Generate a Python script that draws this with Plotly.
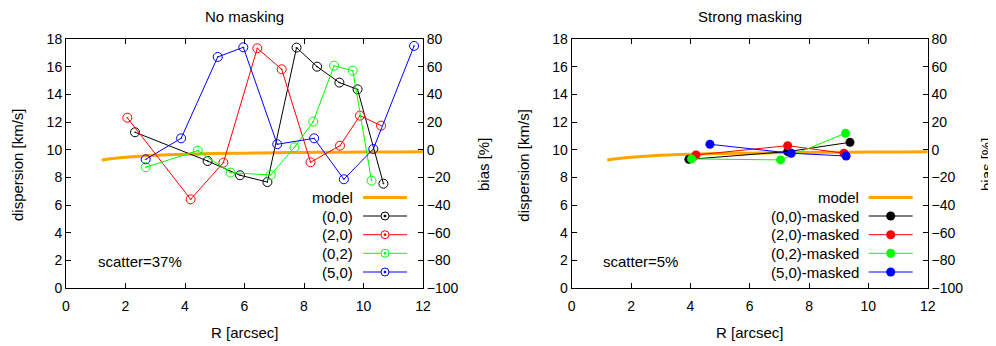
import plotly.graph_objects as go

# page body has an 8px margin: the figure is sized and placed to fit the 996x346 window
OFF = 8
W, H = 996 - OFF, 346 - OFF

# ---------------- data ----------------
R_model = [1.2, 1.5, 2.0, 2.5, 3.0, 4.0, 5.0, 6.0, 7.0, 8.0, 9.0, 10.0, 11.0, 12.0]
disp_model = [9.25, 9.34, 9.45, 9.53, 9.59, 9.67, 9.72, 9.75, 9.78, 9.80, 9.81, 9.83, 9.84, 9.85]

R_00 = [2.32, 4.76, 5.85, 6.77, 7.75, 8.44, 9.19, 9.80, 10.67]
d_00 = [11.26, 9.18, 8.15, 7.66, 17.38, 16.00, 14.85, 14.36, 7.54]
R_20 = [2.06, 4.19, 5.29, 6.43, 7.25, 8.22, 9.21, 9.88, 10.59]
d_20 = [12.31, 6.41, 9.06, 17.33, 15.81, 9.09, 10.29, 12.46, 11.74]
R_02 = [2.68, 4.43, 5.53, 6.88, 7.68, 8.31, 9.01, 9.64, 10.27]
d_02 = [8.73, 9.93, 8.34, 8.17, 10.17, 12.03, 16.07, 15.71, 7.76]
R_50 = [2.68, 3.87, 5.10, 5.96, 7.10, 8.34, 9.34, 10.33, 11.70]
d_50 = [9.30, 10.82, 16.70, 17.40, 10.39, 10.82, 7.86, 10.05, 17.50]

R_00m = [3.95, 7.28, 9.38]
d_00m = [9.30, 9.86, 10.53]
R_20m = [4.19, 7.28, 9.18]
d_20m = [9.62, 10.29, 9.74]
R_02m = [4.04, 7.04, 9.23]
d_02m = [9.33, 9.26, 11.19]
R_50m = [4.66, 7.40, 9.25]
d_50m = [10.39, 9.74, 9.54]

names_left = ["(0,0)", "(2,0)", "(0,2)", "(5,0)"]
names_right = ["(0,0)-masked", "(2,0)-masked", "(0,2)-masked", "(5,0)-masked"]
colors = ["#000000", "#ff0000", "#00ff00", "#0000ff"]
titles = ["No masking", "Strong masking"]
scatter_texts = ["scatter=37%", "scatter=5%"]

x_ticks = [0, 2, 4, 6, 8, 10, 12]
disp_ticks = [0, 2, 4, 6, 8, 10, 12, 14, 16, 18]
bias_ticks = [-100, -80, -60, -40, -20, 0, 20, 40, 60, 80]

FONT = "Liberation Sans, Arial, Helvetica, sans-serif"
ORANGE = "#ffa500"


def px(x):
    return (x - OFF) / W


def py(y):
    return 1 - (y - OFF) / H


fig = go.Figure()

# left panel
fig.add_trace(go.Scatter(x=R_model, y=disp_model, mode="lines", line=dict(color=ORANGE, width=3, shape="spline"),
                         xaxis="x", yaxis="y", showlegend=False))
for R, d, c in zip([R_00, R_20, R_02, R_50], [d_00, d_20, d_02, d_50], colors):
    fig.add_trace(go.Scatter(x=R, y=d, mode="lines+markers", line=dict(color=c, width=1),
                             marker=dict(symbol="circle-open-dot", size=9, color=c, line=dict(width=1, color=c)),
                             xaxis="x", yaxis="y", showlegend=False))
fig.add_trace(go.Scatter(x=[None], y=[None], xaxis="x", yaxis="y2", showlegend=False))

# right panel
fig.add_trace(go.Scatter(x=R_model, y=disp_model, mode="lines", line=dict(color=ORANGE, width=3, shape="spline"),
                         xaxis="x2", yaxis="y3", showlegend=False))
for R, d, c in zip([R_00m, R_20m, R_02m, R_50m], [d_00m, d_20m, d_02m, d_50m], colors):
    fig.add_trace(go.Scatter(x=R, y=d, mode="lines+markers", line=dict(color=c, width=1),
                             marker=dict(symbol="circle", size=9, color=c),
                             xaxis="x2", yaxis="y3", showlegend=False))
fig.add_trace(go.Scatter(x=[None], y=[None], xaxis="x2", yaxis="y4", showlegend=False))

ydom = [py(288), py(39)]
dom_left = [px(66), px(423)]
dom_right = [px(571.7), px(927.7)]

axis_common = dict(showgrid=False, zeroline=False, showline=True, linecolor="black", linewidth=1,
                   ticks="inside", ticklen=5, tickcolor="black", tickwidth=1, automargin=False,
                   tickfont=dict(family=FONT, size=14, color="black"))

xa = dict(axis_common, range=[0, 12], tickvals=x_ticks, mirror="ticks", ticklabelstandoff=5)
ya = dict(axis_common, range=[0, 18], tickvals=disp_ticks)
yb = dict(axis_common, range=[-100, 80], tickvals=bias_ticks, side="right")

fig.update_layout(
    template="none",
    width=W, height=H, margin=dict(l=0, r=0, t=0, b=0, autoexpand=False),
    paper_bgcolor="white", plot_bgcolor="white",
    font=dict(family=FONT, size=15, color="black"),
    xaxis=dict(xa, domain=dom_left, anchor="y"),
    yaxis=dict(ya, domain=ydom, anchor="x"),
    yaxis2=dict(yb, overlaying="y", anchor="x"),
    xaxis2=dict(xa, domain=dom_right, anchor="y3"),
    yaxis3=dict(ya, domain=ydom, anchor="x2"),
    yaxis4=dict(yb, overlaying="y3", anchor="x2"),
)

ann = []
shapes = []
for i, (x0, x1) in enumerate([(66, 423), (571.7, 927.7)]):
    cx = (x0 + x1) / 2
    ann.append(dict(text=titles[i], x=px(cx), y=py(16), xref="paper", yref="paper", showarrow=False,
                    xanchor="center", yanchor="middle", font=dict(size=15)))
    ann.append(dict(text="R [arcsec]", x=px(cx), y=py(332), xref="paper", yref="paper", showarrow=False,
                    xanchor="center", yanchor="middle", font=dict(size=15)))
    ann.append(dict(text="dispersion [km/s]", x=px(x0 - 49), y=py(165), xref="paper", yref="paper",
                    showarrow=False, textangle=-90, xanchor="center", yanchor="middle", font=dict(size=15)))
    ann.append(dict(text="bias [%]", x=px(min(x1 + 60, 986)), y=py(165), xref="paper", yref="paper",
                    showarrow=False, textangle=-90, xanchor="center", yanchor="middle", font=dict(size=15)))
    ann.append(dict(text=scatter_texts[i], x=px(x0 + 29.7), y=py(261), xref="paper", yref="paper",
                    showarrow=False, xanchor="left", yanchor="middle", font=dict(size=15)))

    # key
    txt_r = x0 + 289
    s0, s1, sm = x0 + 297, x0 + 341, x0 + 319
    rows = [197.5, 216, 234.7, 253.3, 272]
    labels = ["model"] + (names_left if i == 0 else names_right)
    for j, (yy, lab) in enumerate(zip(rows, labels)):
        ann.append(dict(text=lab, x=px(txt_r), y=py(yy), xref="paper", yref="paper", showarrow=False,
                        xanchor="right", yanchor="middle", font=dict(size=15)))
        if j == 0:
            shapes.append(dict(type="line", xref="paper", yref="paper", x0=px(s0), x1=px(s1), y0=py(yy), y1=py(yy),
                               line=dict(color=ORANGE, width=3)))
        else:
            c = colors[j - 1]
            shapes.append(dict(type="line", xref="paper", yref="paper", x0=px(s0), x1=px(s1), y0=py(yy), y1=py(yy),
                               line=dict(color=c, width=1)))
            if i == 0:
                r = 4
                shapes.append(dict(type="circle", xref="paper", yref="paper", x0=px(sm - r), x1=px(sm + r),
                                   y0=py(yy + r), y1=py(yy - r), line=dict(color=c, width=1), fillcolor="white"))
                r2 = 1
                shapes.append(dict(type="circle", xref="paper", yref="paper", x0=px(sm - r2), x1=px(sm + r2),
                                   y0=py(yy + r2), y1=py(yy - r2), line=dict(color=c, width=1), fillcolor=c))
            else:
                r = 4.5
                shapes.append(dict(type="circle", xref="paper", yref="paper", x0=px(sm - r), x1=px(sm + r),
                                   y0=py(yy + r), y1=py(yy - r), line=dict(color=c, width=0), fillcolor=c))

fig.update_layout(annotations=ann, shapes=shapes)

fig.write_html("out.html")
